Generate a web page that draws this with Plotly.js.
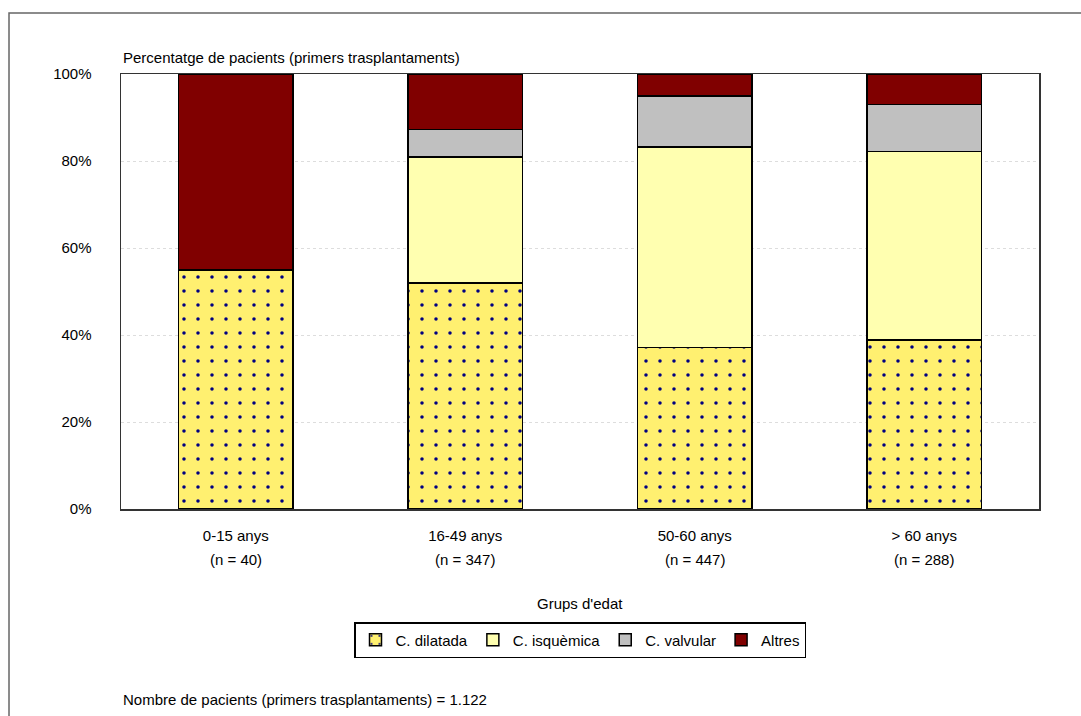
<!DOCTYPE html>
<html>
<head>
<meta charset="utf-8">
<script src="https://cdn.plot.ly/plotly-3.0.1.min.js"></script>
<style>
  html, body { margin: 0; padding: 0; background: #fff; }
  #chart { width: 1081px; height: 716px; }
</style>
</head>
<body>
<div id="chart"></div>
<script>
// Age groups of first heart transplant patients and aetiology shares (%)
const groups = ['0-15 anys', '16-49 anys', '50-60 anys', '> 60 anys'];
const groupN = [40, 347, 447, 288];
const dilatada = [55.0, 52.0, 37.1, 38.8];
const isquemica = [0.0, 28.9, 46.1, 43.4];
const valvular = [0.0, 6.3, 11.7, 10.8];
const altres = [45.0, 12.8, 5.1, 7.0];
const yTicks = [0, 20, 40, 60, 80, 100];
const totalPatients = '1.122';

const FONT = '"Liberation Sans", Arial, sans-serif';
const FS = 15;

function barTrace(name, values, color, pattern) {
  const marker = { color: color, line: { color: '#000000', width: 1.5 } };
  if (pattern) marker.pattern = pattern;
  return { type: 'bar', name: name, x: groups, y: values, marker: marker, hoverinfo: 'skip' };
}

const data = [
  barTrace('C. dilatada', dilatada, '#FFF070',
    { shape: '.', fgcolor: '#000080', fgopacity: 1, bgcolor: '#FFF070', size: 14, solidity: 0.05, fillmode: 'overlay' }),
  barTrace('C. isquèmica', isquemica, '#FFFFB0'),
  barTrace('C. valvular', valvular, '#C0C0C0'),
  barTrace('Altres', altres, '#800000')
];

// second line of each category label: group size
const nLabels = groups.map((g, i) => ({
  text: '(n = ' + groupN[i] + ')',
  xref: 'x', yref: 'paper', x: g, y: -0.117,
  xanchor: 'center', yanchor: 'middle', showarrow: false,
  font: { family: FONT, size: FS }
}));

const layout = {
  width: 1081,
  height: 716,
  margin: { l: 121, r: 42, t: 74, b: 207 },
  paper_bgcolor: '#ffffff',
  plot_bgcolor: '#ffffff',
  font: { family: FONT, size: FS, color: '#000000' },
  barmode: 'stack',
  bargap: 0.5,
  showlegend: true,
  legend: {
    orientation: 'h',
    x: 0.5, xanchor: 'center',
    y: -0.26, yanchor: 'top',
    bordercolor: '#000000', borderwidth: 1.5,
    font: { family: FONT, size: FS },
    traceorder: 'normal',
    itemclick: false, itemdoubleclick: false
  },
  xaxis: {
    type: 'category',
    ticks: '',
    ticklabelstandoff: 12,
    showline: true, mirror: true, linecolor: '#333333', linewidth: 1.5,
    showgrid: false,
    fixedrange: true
  },
  yaxis: {
    range: [0, 100],
    tickmode: 'array',
    tickvals: yTicks,
    ticktext: yTicks.map(v => v + '%'),
    ticks: '',
    ticklabelstandoff: 25,
    showline: true, mirror: true, linecolor: '#333333', linewidth: 1.5,
    showgrid: true, gridcolor: '#dddddd', gridwidth: 1, griddash: 'dot',
    zeroline: false,
    fixedrange: true
  },
  annotations: [
    {
      text: 'Percentatge de pacients (primers trasplantaments)',
      xref: 'paper', yref: 'paper', x: 0, y: 1.039,
      xanchor: 'left', yanchor: 'middle', showarrow: false,
      font: { family: FONT, size: FS }
    },
    {
      text: "Grups d'edat",
      xref: 'paper', yref: 'paper', x: 0.5, y: -0.218,
      xanchor: 'center', yanchor: 'middle', showarrow: false,
      font: { family: FONT, size: FS }
    },
    {
      text: 'Nombre de pacients (primers trasplantaments) = ' + totalPatients,
      xref: 'paper', yref: 'paper', x: 0, y: -0.439,
      xanchor: 'left', yanchor: 'middle', showarrow: false,
      font: { family: FONT, size: FS }
    }
  ].concat(nLabels),
  shapes: [
    {
      // outer chart frame, open past the right and bottom edges
      type: 'rect', xref: 'paper', yref: 'paper',
      x0: -0.122, x1: 1.2, y0: -0.7, y1: 1.140,
      line: { color: '#666666', width: 1.5 },
      fillcolor: 'rgba(0,0,0,0)', layer: 'below'
    }
  ]
};

Plotly.newPlot('chart', data, layout, { displayModeBar: false, staticPlot: true });
</script>
</body>
</html>
